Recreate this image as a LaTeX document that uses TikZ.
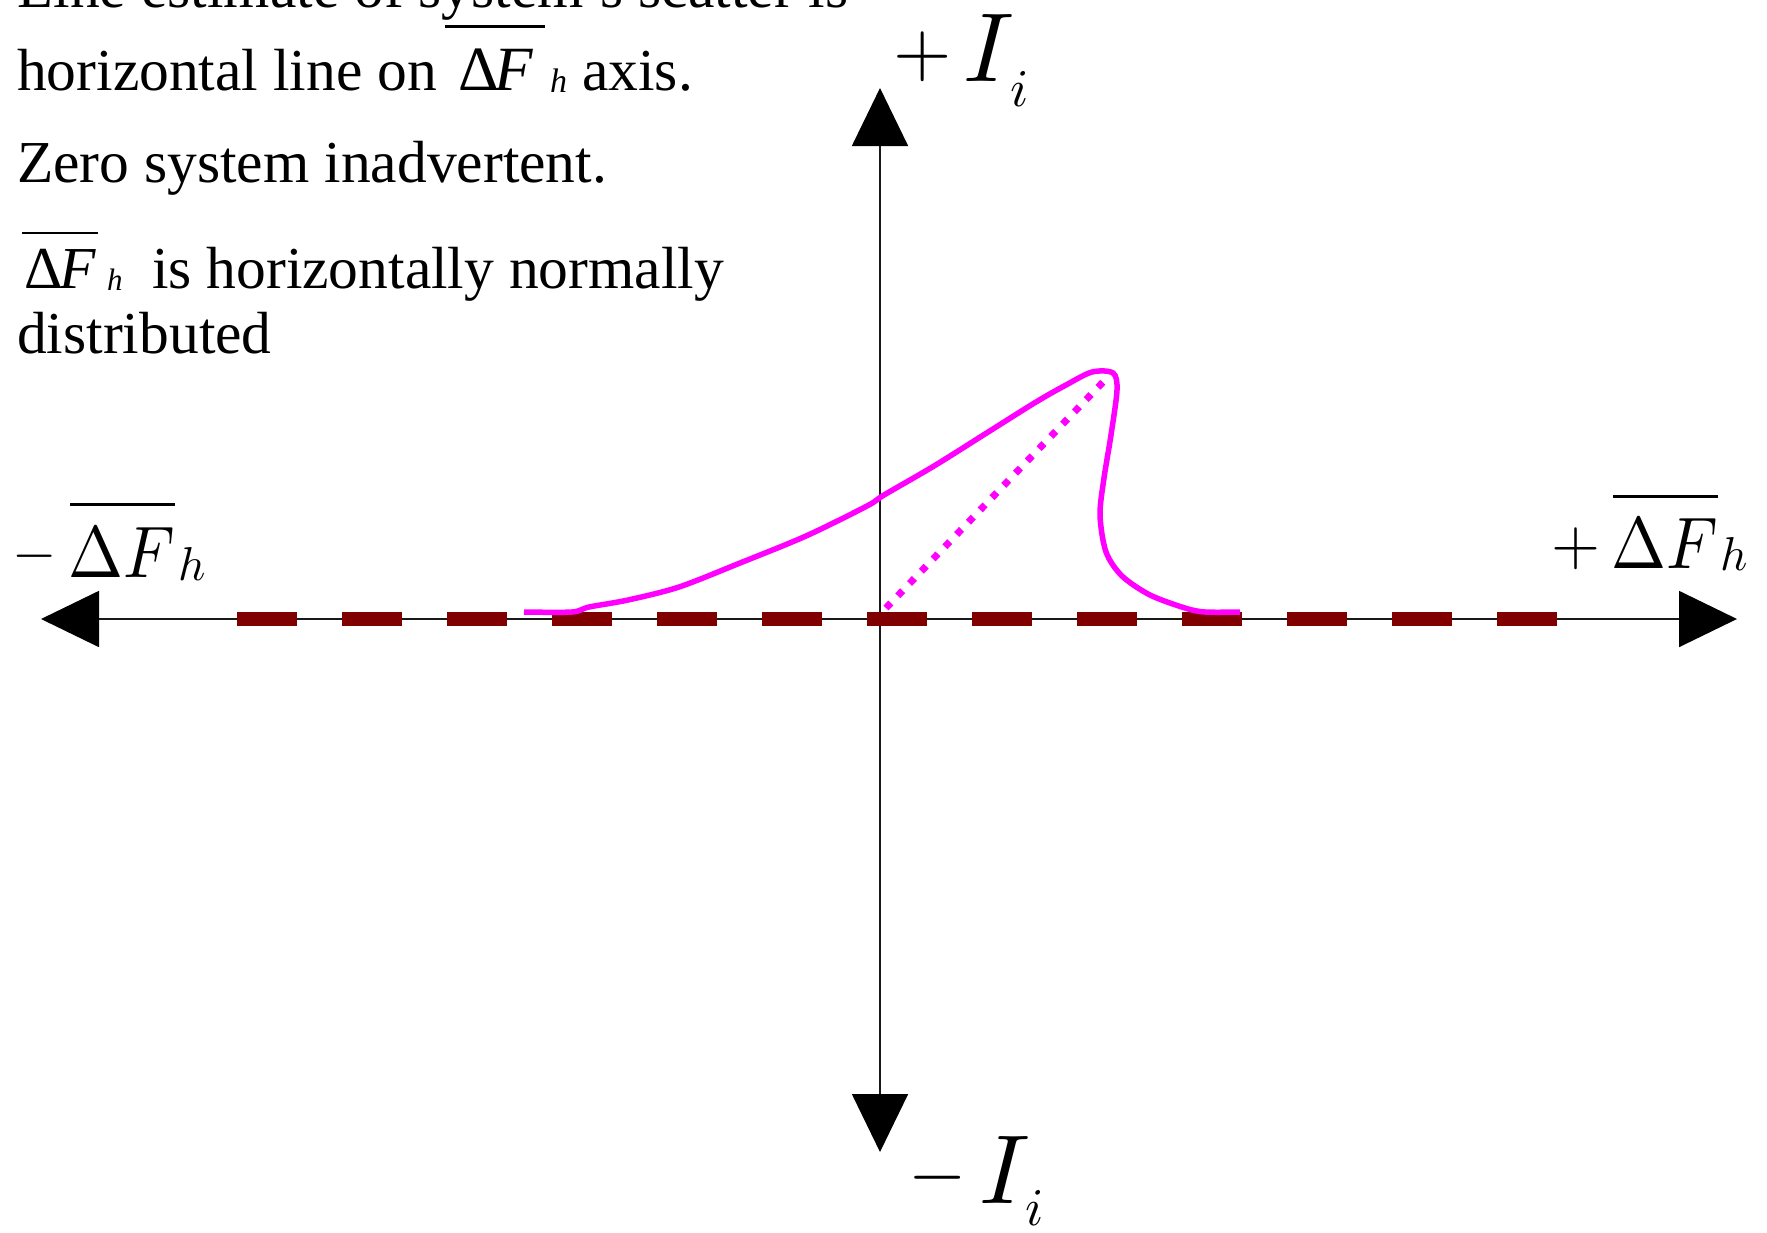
\documentclass[tikz,border=0pt]{standalone}
\usepackage[no-math]{fontspec}
\setmainfont{Liberation Serif}
\usepackage{graphicx}
\usetikzlibrary{arrows.meta}
\definecolor{axred}{HTML}{800000}
\definecolor{mag}{HTML}{FF00FF}
\begin{document}
\begin{tikzpicture}[x=1pt,y=-1pt,
  txt/.style={anchor=base west,inner sep=0pt,font=\fontsize{59.5}{70}\selectfont},
  lbl/.style={anchor=base west,inner sep=0pt,font=\normalsize},
  axisline/.style={line width=1.8pt,black!90},
  bigtip/.style={-{Triangle[length=58pt,width=56pt,fill=black,color=black]}},
  ovl/.style={line width=3pt,black},
  estline/.style={line width=14pt,axred,dash pattern=on 60pt off 45pt},
  scat/.style={line width=5.5pt,mag,line join=round,line cap=butt},
  scatdot/.style={line width=7pt,mag,dash pattern=on 7pt off 10pt}]
\useasboundingbox (0,0) rectangle (1767,1232);
% axes
\coordinate (O) at (880,619);
\coordinate (L) at (41,619);
\coordinate (R) at (1737,619);
\coordinate (T) at (880,88);
\coordinate (B) at (880,1152);
\draw[axisline,bigtip] (O) -- (L);
\draw[axisline,bigtip] (O) -- (R);
\draw[axisline,bigtip] (O) -- (T);
\draw[axisline,bigtip] (O) -- (B);
% line estimate (dashed)
\coordinate (eL) at (237,619);
\coordinate (eR) at (1557,619);
\draw[estline] (eL) -- (eR);
% scatter outline
\draw[scat] plot[smooth,tension=0.5] coordinates {
 (524,612) (572,612) (589,607) (628,600) (679,587) (740,563) (806,536)
 (867,506) (884,495) (934,466) (985,434) (1036,402) (1066,385)
 (1092,372) (1113,373) (1117,390) (1111,435) (1104,478) (1100,515)
 (1106,552) (1122,576) (1150,595) (1185,608) (1205,612) (1240,612)};
\coordinate (dS) at (886,608);
\coordinate (dP) at (1105,380);
\draw[scatdot] (dS) -- (dP);
% texts
\node[txt] (t1) at (17,7) {Line estimate of system’s scatter is};
\node[txt] (t2) at (17,90) {\makebox[441pt][l]{horizontal line on}\makebox[92pt][l]{\fontsize{63}{63}\selectfont Δ\kern-4pt\textit{F}}\makebox[32pt][l]{\raisebox{-2pt}{\fontsize{34}{34}\selectfont\textit{h}}}axis.};
\node[txt] (t3) at (17,182) {Zero system inadvertent.};
\node[txt] (t4) at (24,288) {\makebox[83pt][l]{Δ\kern-3pt\textit{F}}\makebox[45pt][l]{\raisebox{-2pt}{\fontsize{31}{31}\selectfont\textit{h}}}is horizontally normally};
\node[txt] (t5) at (17,353) {distributed};
\draw[ovl] (445,26) -- (545,26);
\draw[ovl,line width=2.5pt] (22,233) -- (98,233);
% axis labels
\node[lbl] (ptop) at (893,81) {\makebox[70pt][l]{\raisebox{6pt}{\scalebox{7.5}{$+$}}}\makebox[47pt][l]{\scalebox{9.8}{$I$}}\raisebox{-25pt}{\scalebox{5.3}{$i$}}};
\node[lbl] (pbot) at (908,1203) {\makebox[71pt][l]{\raisebox{7pt}{\scalebox{7.5}{$-$}}}\makebox[46pt][l]{\scalebox{9.8}{$I$}}\raisebox{-22pt}{\scalebox{5.3}{$i$}}};
\node[lbl] (pleft) at (12,577) {\makebox[56pt][l]{\raisebox{7pt}{\scalebox{5.7}{$-$}}}\makebox[110pt][l]{\scalebox{6.6}[7.3]{$\Delta F$}}\raisebox{-3pt}{\scalebox{4.75}{$h$}}};
\node[lbl] (pright) at (1551,568) {\makebox[60pt][l]{\raisebox{4pt}{\scalebox{6.3}{$+$}}}\makebox[109pt][l]{\scalebox{6.6}[7.3]{$\Delta F$}}\raisebox{-2pt}{\scalebox{4.75}{$h$}}};
\draw[ovl] (70,504) -- (175,504);
\draw[ovl] (1613,496) -- (1718,496);
\end{tikzpicture}
\end{document}
